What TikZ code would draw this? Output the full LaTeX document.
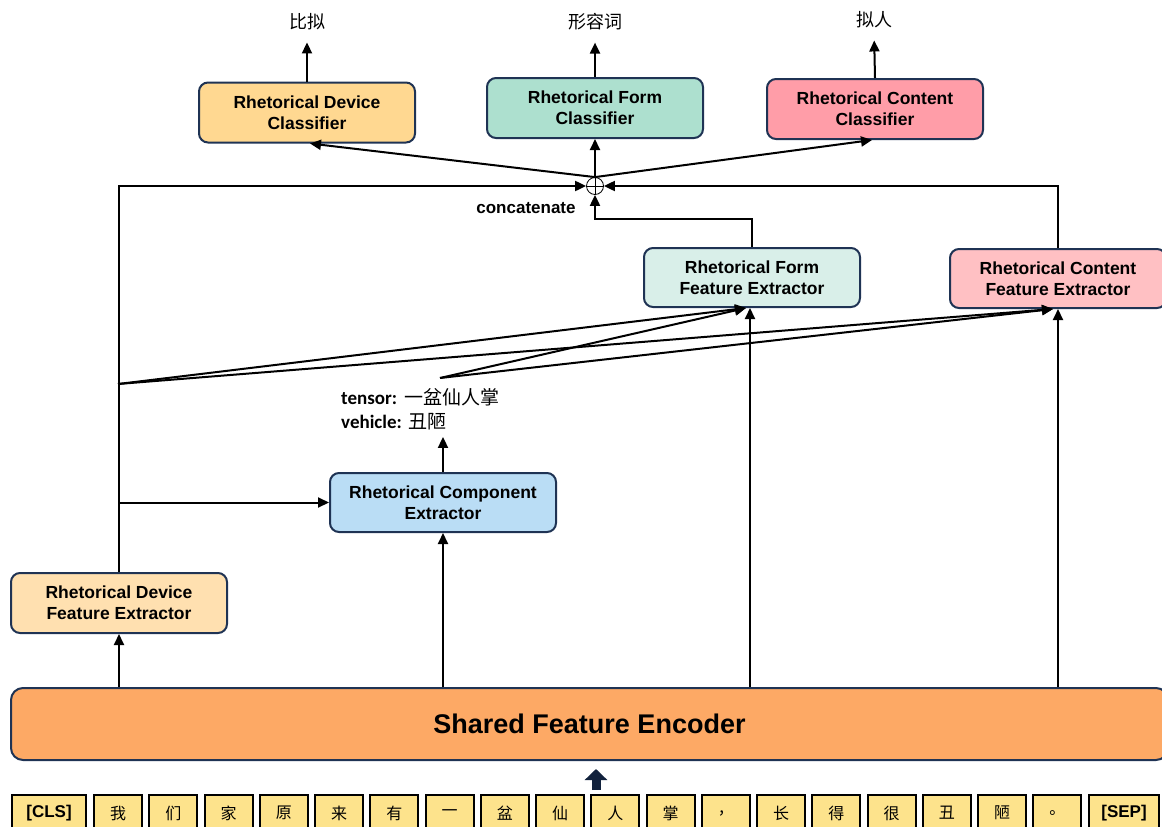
\documentclass[tikz,border=0pt]{standalone}
\usepackage{fontspec}
\setmainfont{Liberation Sans}
\newfontfamily\cjk{Noto Sans CJK SC}
\newfontfamily\cali{Carlito}
\usepackage{xcolor}
\usepackage{tikz}
\usetikzlibrary{positioning,calc,arrows.meta}

\definecolor{edgeblue}{HTML}{1F3354}
\definecolor{devcol}{HTML}{FFD891}
\definecolor{formcol}{HTML}{ADE0CF}
\definecolor{contcol}{HTML}{FF9DA8}
\definecolor{devfecol}{HTML}{FFE0B0}
\definecolor{formfecol}{HTML}{D9EFE9}
\definecolor{contfecol}{HTML}{FFC0C3}
\definecolor{compcol}{HTML}{BADDF5}
\definecolor{enccol}{HTML}{FDA965}
\definecolor{tokcol}{HTML}{FDE38C}
\definecolor{inarrow}{HTML}{12223D}

\tikzset{
    blk/.style={draw=edgeblue, line width=2pt, rounded corners=9pt, align=center,
        minimum width=216pt, minimum height=60pt, inner sep=2pt,
        font=\fontsize{17.5}{21}\selectfont\bfseries},
    arr/.style={line width=2pt, -{Triangle[length=11pt,width=10pt]}},
    ln/.style={line width=2pt},
    tok/.style={draw=black, line width=2pt, fill=tokcol, minimum width=48pt,
        minimum height=36pt, inner sep=0pt},
    lab/.style={font=\cjk\fontsize{18}{20}\selectfont, inner sep=2pt},
}

\begin{document}
\begin{tikzpicture}[x=1pt,y=-1pt]
    \useasboundingbox (0,0) rectangle (1162,827);

    % Classifiers
    \node[blk, fill=devcol] (devcls) at (307,112.5) {Rhetorical Device\\Classifier};
    \node[blk, fill=formcol] (formcls) at (595,108) {Rhetorical Form\\Classifier};
    \node[blk, fill=contcol] (contcls) at (875,109) {Rhetorical Content\\Classifier};

    \node[lab] (lbdev) at (307,22) {比拟};
    \node[lab] (lbform) at (595,22) {形容词};
    \node[lab] (lbcont) at (874,20) {拟人};
    \draw[arr, shorten >=10pt] (devcls.north) -- (lbdev.south);
    \draw[arr, shorten >=10pt] (formcls.north) -- (lbform.south);
    \draw[arr, shorten >=10pt] (contcls.north) -- (lbcont.south);

    % Concatenation
    \node[circle, draw, line width=0.8pt, minimum size=17pt, inner sep=0pt, fill=white] (plus) at (595,186) {};
    \draw[line width=0.8pt] (plus.north) -- (plus.south) (plus.west) -- (plus.east);
    \node[font=\fontsize{17}{20}\selectfont\bfseries] (concat) at (526,208) {concatenate};
    \draw[arr] (plus.north) -- (formcls.south);
    \draw[arr] (plus.north) -- ([xshift=3pt]devcls.south);
    \draw[arr] (plus.north) -- ([xshift=-3pt]contcls.south);

    % Feature extractors
    \node[blk, fill=formfecol, minimum height=59pt] (formfe) at (752,277.5) {Rhetorical Form\\Feature Extractor};
    \node[blk, fill=contfecol, minimum height=59pt] (contfe) at (1058,278.5) {Rhetorical Content\\Feature Extractor};
    \node[blk, fill=devfecol] (devfe) at (119,603) {Rhetorical Device\\Feature Extractor};
    \node[blk, fill=compcol, minimum width=226pt, minimum height=59pt] (comp) at (443,502.5) {Rhetorical Component\\Extractor};

    \node[anchor=west, align=left, inner sep=0pt, font=\fontsize{19}{24}\selectfont] (compout) at (341,409)
        {{\cali\bfseries tensor:} {\cjk 一盆仙人掌}\\{\cali\bfseries vehicle:} {\cjk 丑陋}};
    \draw[arr] (comp.north) -- ([yshift=-7pt]comp.north |- compout.south);

    % Encoder
    \node[blk, fill=enccol, minimum width=1157pt, minimum height=72pt, rounded corners=12pt,
        font=\fontsize{27}{30}\selectfont\bfseries] (enc) at (589.5,724) {Shared Feature Encoder};

    \draw[arr] (devfe.south |- enc.north) -- (devfe.south);
    \draw[arr] (comp.south |- enc.north) -- (comp.south);
    \draw[arr] ([xshift=-2pt]formfe.south |- enc.north) -- ([xshift=-2pt]formfe.south);
    \draw[arr] (contfe.south |- enc.north) -- (contfe.south);

    % Feature routes into concatenation
    \draw[arr] (devfe.north) |- (plus.west);
    \draw[arr] (devfe.north |- comp.west) -- (comp.west);
    \draw[arr] (formfe.north) -- ++(0,-28) -| (plus.south);
    \draw[arr] (contfe.north) |- (plus.east);

    \coordinate (fanL) at (118,384);
    \coordinate (fanR) at (440,378);
    \draw[arr] (fanL) -- ([xshift=-6pt]formfe.south);
    \draw[arr] (fanL) -- ([xshift=-5pt]contfe.south);
    \draw[arr] (fanR) -- ([xshift=-6pt]formfe.south);
    \draw[arr] (fanR) -- ([xshift=-5pt]contfe.south);

    % Input tokens
    \node[tok, minimum width=74pt, font=\fontsize{17}{20}\selectfont\bfseries] (tok0) at (49,813) {[CLS]};
    \foreach \c [count=\i] in {我,们,家,原,来,有,一,盆,仙,人,掌,，,长,得,很,丑,陋,。}
        \node[tok, font=\cjk\fontsize{16}{18}\selectfont] (tok\i) at ({118+55.25*(\i-1)},813) {\c};
    \node[tok, minimum width=70pt, font=\fontsize{17}{20}\selectfont\bfseries] (tok19) at (1124,813) {[SEP]};

    \coordinate (inp) at (596,795);
    \draw[line width=9pt, inarrow, -{Triangle[length=11pt,width=22pt]}, shorten <=5pt, shorten >=8pt]
        (inp) -- (inp |- enc.south);
\end{tikzpicture}
\end{document}
